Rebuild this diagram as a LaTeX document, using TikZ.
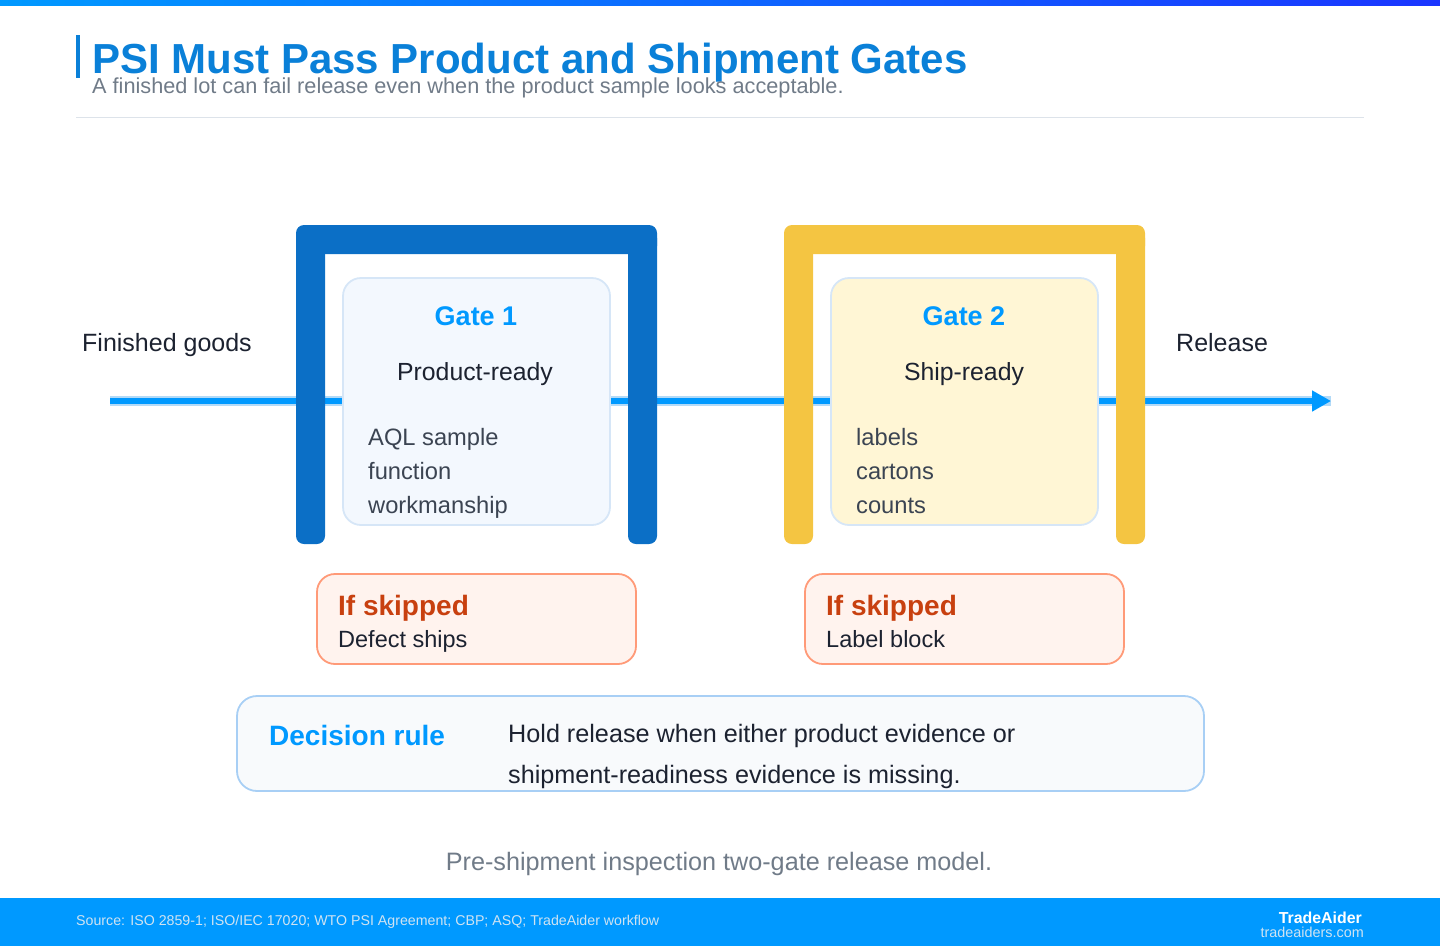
\documentclass[tikz,border=0pt]{standalone}
\usepackage{fontspec}
\setmainfont{Liberation Sans}
\definecolor{psiSky}{HTML}{0099FF}
\definecolor{psiIndigo}{HTML}{1A35FF}
\definecolor{psiTitle}{HTML}{0A80D8}
\definecolor{psiGrey}{HTML}{707B88}
\definecolor{psiRule}{HTML}{DDE3EA}
\definecolor{psiHalo}{HTML}{B3DAF7}
\definecolor{psiGate}{HTML}{0B6FC6}
\definecolor{psiGold}{HTML}{F4C542}
\definecolor{psiMist}{HTML}{F3F8FE}
\definecolor{psiCream}{HTML}{FFF6D5}
\definecolor{psiLine}{HTML}{D6E6F7}
\definecolor{psiInk}{HTML}{1C2230}
\definecolor{psiSlate}{HTML}{3B4452}
\definecolor{psiPeach}{HTML}{FFF3EE}
\definecolor{psiCoral}{HTML}{FF9A78}
\definecolor{psiRust}{HTML}{C8400F}
\definecolor{psiPaper}{HTML}{F8FAFC}
\definecolor{psiFrame}{HTML}{A8CFF5}
\definecolor{psiFoot}{HTML}{CFE3F2}
\usetikzlibrary{arrows.meta, positioning}

\begin{document}
\begin{tikzpicture}[
    x=1pt, y=-1pt,
    inner sep=0pt,
    gatebox/.style={
      rounded corners=18pt,
      draw=psiLine,
      line width=1.8pt,
      minimum width=267pt,
      minimum height=247pt,
    },
    skipbox/.style={rounded corners=18pt, draw=psiCoral, fill=psiPeach, line width=1.8pt, minimum width=319pt, minimum height=90pt},
    gatetitle/.style={anchor=base, text=psiSky, font=\fontsize{27}{32}\selectfont\bfseries},
    gatetag/.style={anchor=base, text=psiInk, font=\fontsize{24.8}{30}\selectfont},
    listitem/.style={anchor=base west, text=psiSlate, font=\fontsize{23.7}{28}\selectfont},
    sidelabel/.style={anchor=base west, text=psiInk, font=\fontsize{25}{30}\selectfont},
    skiptitle/.style={anchor=base west, text=psiRust, font=\fontsize{28}{33}\selectfont\bfseries},
    skiptext/.style={anchor=base west, text=psiInk, font=\fontsize{23.5}{28}\selectfont},
    ruletext/.style={anchor=base west, text=psiInk, font=\fontsize{25.2}{30}\selectfont},
    halo/.style={psiHalo, line width=10pt},
    flow/.style={-{Triangle[length=19pt, width=20pt]}, psiSky, line width=5.5pt},
  ]
    \useasboundingbox (0,0) rectangle (1440,946);

    % Header
    \shade[left color=psiSky, right color=psiIndigo] (0,0) rectangle (1440,5);
    \fill[psiTitle] (76,35) rectangle (80,78);
    \node[anchor=base west, text=psiTitle, font=\fontsize{42}{48}\selectfont\bfseries] (title) at (92,73) {PSI Must Pass Product and Shipment Gates};
    \node[anchor=base west, text=psiGrey, font=\fontsize{21.7}{26}\selectfont] (subtitle) at (92,93) {A finished lot can fail release even when the product sample looks acceptable.};
    \draw[psiRule, line width=1pt] (76,117) -- (1364,117);

    % Flow line
    \coordinate (flowIn) at (110,401);
    \coordinate (flowOut) at (1331,401);
    \draw[halo] (flowIn) -- (flowOut);
    \draw[flow] (flowIn) -- (flowOut);

    % Gate frames
    \foreach \gx/\gc in {296/psiGate, 784/psiGold} {
      \fill[\gc, rounded corners=8pt] (\gx,225) rectangle ++(361,29);
      \fill[\gc, rounded corners=8pt] (\gx,230) rectangle ++(29,314);
      \fill[\gc, rounded corners=8pt] (\gx+332,230) rectangle ++(29,314);
    }

    % Gate 1
    \node[gatebox, fill=psiMist] (g1box) at (476.5,401.5) {};
    \node[gatetitle] (g1title) at (476,325) {Gate 1};
    \node[gatetag] (g1tag) at (475,380) {Product-ready};
    \foreach \txt [count=\i] in {AQL sample, function, workmanship}
      \node[listitem] (g1item\i) at (368,411+34*\i) {\txt};

    % Gate 2
    \node[gatebox, fill=psiCream] (g2box) at (964.5,401.5) {};
    \node[gatetitle] (g2title) at (964,325) {Gate 2};
    \node[gatetag] (g2tag) at (964,380) {Ship-ready};
    \foreach \txt [count=\i] in {labels, cartons, counts}
      \node[listitem] (g2item\i) at (856,411+34*\i) {\txt};

    % Ends of the flow
    \node[sidelabel] (finished) at (82,351) {Finished goods};
    \node[sidelabel] (release) at (1176,351) {Release};

    % If skipped
    \node[skipbox] (skip1) at (476.5,619) {};
    \node[skiptitle] (skip1title) at (338,615) {If skipped};
    \node[skiptext] (skip1text) at (338,647) {Defect ships};
    \node[skipbox] (skip2) at (964.5,619) {};
    \node[skiptitle] (skip2title) at (826,615) {If skipped};
    \node[skiptext] (skip2text) at (826,647) {Label block};

    % Decision rule
    \node[rounded corners=20pt, draw=psiFrame, fill=psiPaper, line width=1.8pt, minimum width=967pt, minimum height=95pt] (rule) at (720.5,743.5) {};
    \node[anchor=base west, text=psiSky, font=\fontsize{28}{33}\selectfont\bfseries] (ruletitle) at (269,745) {Decision rule};
    \node[ruletext] (ruleline1) at (508,742) {Hold release when either product evidence or};
    \node[ruletext] (ruleline2) at (508,783) {shipment-readiness evidence is missing.};

    % Caption
    \node[anchor=base, text=psiGrey, font=\fontsize{25.2}{30}\selectfont] (caption) at (719,870) {Pre-shipment inspection two-gate release model.};

    % Footer
    \fill[psiSky] (0,898) rectangle (1440,946);
    \node[anchor=base west, text=psiFoot, font=\fontsize{14.2}{16}\selectfont] (source) at (76,925) {Source: ISO 2859-1; ISO/IEC 17020; WTO PSI Agreement; CBP; ASQ; TradeAider workflow};
    \node[anchor=base east, text=white, font=\fontsize{15.9}{18}\selectfont\bfseries] (brand) at (1362,923) {TradeAider};
    \node[anchor=base east, text=psiFoot, font=\fontsize{14.4}{17}\selectfont] (site) at (1364,937) {tradeaiders.com};
  \end{tikzpicture}
\end{document}
